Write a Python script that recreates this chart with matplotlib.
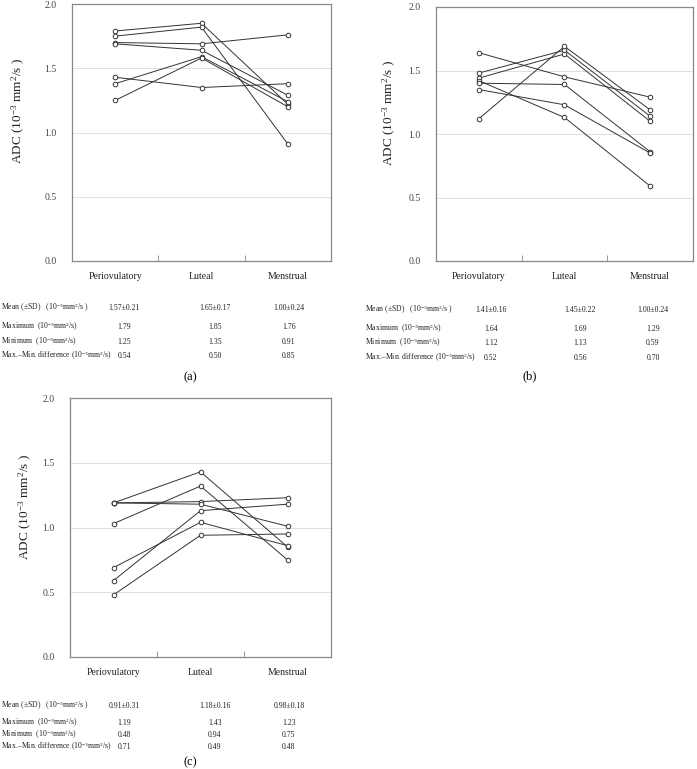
import numpy as np
import matplotlib
matplotlib.use("Agg")
import matplotlib.pyplot as plt

plt.rcParams['font.family'] = ['Liberation Serif', 'DejaVu Serif']
plt.rcParams['mathtext.fontset'] = 'custom'
plt.rcParams['mathtext.rm'] = 'Liberation Serif'
plt.rcParams['mathtext.it'] = 'Liberation Serif:italic'

phases = ['Periovulatory', 'Luteal', 'Menstrual']

# ADC values per subject (rows) at each phase
a_peri = [1.79, 1.75, 1.70, 1.69, 1.43, 1.38, 1.25]
a_lut = [1.85, 1.82, 1.69, 1.64, 1.35, 1.59, 1.58]
a_men = [1.22, 0.91, 1.76, 1.29, 1.38, 1.24, 1.20]

b_peri = [1.64, 1.48, 1.44, 1.42, 1.40, 1.35, 1.12]
b_lut = [1.45, 1.66, 1.63, 1.13, 1.39, 1.23, 1.69]
b_men = [1.29, 1.14, 1.10, 0.59, 0.86, 0.85, 1.19]

c_peri = [1.19, 1.19, 1.19, 1.03, 0.69, 0.59, 0.48]
c_lut = [1.43, 1.20, 1.18, 1.32, 1.04, 1.13, 0.94]
c_men = [0.85, 1.23, 1.01, 0.75, 0.86, 1.18, 0.95]

row_labels = ['Mean ($\\pm$SD)   (10$^{-3}$mm$^{2}$/s )',
              'Maximum  (10$^{-3}$mm$^{2}$/s)',
              'Minimum  (10$^{-3}$mm$^{2}$/s)',
              'Max.\u2013Min. difference (10$^{-3}$mm$^{2}$/s)']

a_table = [['1.57\u00b10.21', '1.65\u00b10.17', '1.00\u00b10.24'],
           ['1.79', '1.85', '1.76'],
           ['1.25', '1.35', '0.91'],
           ['0.54', '0.50', '0.85']]
b_table = [['1.41\u00b10.16', '1.45\u00b10.22', '1.00\u00b10.24'],
           ['1.64', '1.69', '1.29'],
           ['1.12', '1.13', '0.59'],
           ['0.52', '0.56', '0.70']]
c_table = [['0.91\u00b10.31', '1.18\u00b10.16', '0.98\u00b10.18'],
           ['1.19', '1.43', '1.23'],
           ['0.48', '0.94', '0.75'],
           ['0.71', '0.49', '0.48']]

W, H = 697, 769
fig = plt.figure(figsize=(W / 100, H / 100), dpi=100)


def px_axes(left, top, right, bottom):
    return fig.add_axes([left / W, 1 - bottom / H, (right - left) / W, (bottom - top) / H])


def draw_panel(ax, peri, lut, men, label_xy):
    x = np.arange(3)
    for p, l, m in zip(peri, lut, men):
        ax.plot(x, [p, l, m], color='#333333', lw=0.7, marker='o', ms=3.3,
                mfc='white', mec='#333333', mew=0.7, zorder=3)
    ax.set_xlim(-0.5, 2.5)
    ax.set_ylim(0, 2.0)
    ax.set_yticks([0, 0.5, 1.0, 1.5, 2.0])
    ax.set_yticklabels(['0.0', '0.5', '1.0', '1.5', '2.0'])
    for yv in [0.5, 1.0, 1.5]:
        ax.axhline(yv, color='#e0e0e0', lw=0.7, zorder=1)
    ax.set_xticks(x)
    ax.set_xticklabels(phases)
    ax.set_xticks([0.5, 1.5], minor=True)
    ax.tick_params(axis='x', which='major', length=0, pad=8, labelsize=7, colors='#222222')
    ax.tick_params(axis='x', which='minor', length=4, direction='in', color='#888888')
    ax.tick_params(axis='y', length=0, pad=11, labelsize=7, colors='#444444')
    for s in ax.spines.values():
        s.set_color('#888888')
        s.set_linewidth(0.9)
    ax.set_ylabel('ADC (10$^{-3}$ mm$^{2}$/s )', fontsize=9.5, color='#222222')
    ax.yaxis.set_label_coords(*label_xy)


def draw_table(x_label, x_cols, y_rows, values, tag, tag_xy):
    for lab, vals, yy in zip(row_labels, values, y_rows):
        fig.text(x_label / W, 1 - yy / H, lab, fontsize=5.6, va='center', ha='left', color='#222222')
        for xc, v in zip(x_cols, vals):
            fig.text(xc / W, 1 - yy / H, v, fontsize=5.6, va='center', ha='center', color='#222222')
    fig.text(tag_xy[0] / W, 1 - tag_xy[1] / H, tag, fontsize=9, ha='center', va='center')


ax_a = px_axes(72, 4, 331, 261)
draw_panel(ax_a, a_peri, a_lut, a_men, (-0.174, 0.585))
ax_b = px_axes(436, 7, 693, 261)
draw_panel(ax_b, b_peri, b_lut, b_men, (-0.148, 0.585))
ax_c = px_axes(70, 398, 331, 657)
draw_panel(ax_c, c_peri, c_lut, c_men, (-0.138, 0.58))

draw_table(1, [124, 215, 289], [308, 327, 342, 356], a_table, '(a)', (190, 377))
draw_table(365, [491, 580, 653], [310, 329, 343, 358], b_table, '(b)', (530, 376))
draw_table(1, [124, 215, 289], [706, 723, 735, 747], c_table, '(c)', (190, 762))

fig.savefig('out.png', dpi=100)
